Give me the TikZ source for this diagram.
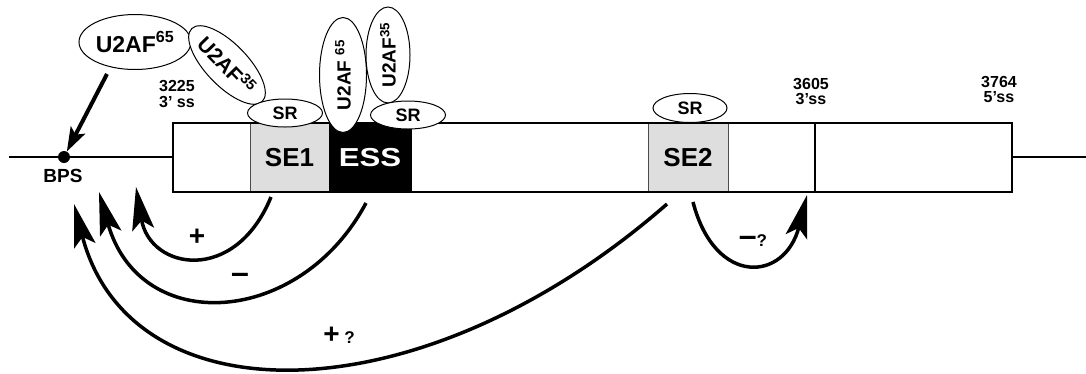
\documentclass[tikz,border=0pt]{standalone}
\usepackage{fontspec}
\setmainfont{Liberation Sans}
\usepackage{graphicx}
\usetikzlibrary{shapes.geometric,arrows.meta}
\newcommand\fs[1]{\fontsize{#1}{#1}\selectfont\bfseries}
\tikzset{
  prot/.style={ellipse, draw, fill=white, line width=1pt, inner sep=0pt},
  srbox/.style={prot, minimum width=75pt, minimum height=28pt, font=\fs{18}},
  region/.style={draw=black!70, line width=0.8pt, minimum height=69pt, inner sep=0pt, font=\fs{26}},
  effect/.style={line width=3.5pt, -{Stealth[length=43pt,width=22pt,inset=9pt]}},
  sign/.style={font=\fs{28}},
  site/.style={font=\fontsize{16}{15.5}\selectfont\bfseries, align=center},
}
\begin{document}
\begin{tikzpicture}[x=1pt,y=-1pt]
\useasboundingbox (0,0) rectangle (1086,373);

% exon regions
\node[region, fill=black!13, minimum width=79pt] (se1) at (289.5,157.5) {SE1};
\node[region, fill=black, draw=black, minimum width=82pt, text=white] (ess) at (370,157.5) {\scalebox{1.2}[1]{ESS}};
\node[region, fill=black!13, minimum width=80pt] (se2) at (688,157.5) {SE2};

% exon outline and 3' splice site
\node[draw, line width=2.2pt, minimum width=839pt, minimum height=69pt, inner sep=0pt] (exon) at (592.5,157.5) {};
\coordinate (ss3) at (815,123);
\draw[line width=2pt] (ss3) -- (ss3 |- exon.south);

% intron lines
\coordinate (lend) at (9,157);
\coordinate (rend) at (1086,157);
\draw[line width=1.5pt] (lend) -- (lend -| exon.west);
\draw[line width=1.5pt] (rend -| exon.east) -- (rend);

% branch point
\node[circle, fill, inner sep=0pt, minimum size=12pt] (bps) at (64,157) {};
\node[font=\fs{19}] (bpslbl) at (63,176) {BPS};

% site labels
\node[site] (ss3225) at (177,94) {3225\\3' ss};
\node[site] (ss3605) at (811,91.5) {3605\\3'ss};
\node[site] (ss5) at (999,89.5) {3764\\5'ss};

% bound factors
\node[prot, minimum width=112pt, minimum height=55pt, font=\fs{23}] (u65a) at (135,42) {U2AF\textsuperscript{65}};
\node[prot, rotate=-46, minimum width=97pt, minimum height=42pt, font=\fs{21}] (u35a) at (227,65) {U2AF\textsuperscript{35}};
\node[prot, rotate=90, minimum width=115pt, minimum height=47pt, font=\fs{19}] (u65b) at (343,75) {U2AF \textsuperscript{65}};
\node[prot, rotate=90, minimum width=96pt, minimum height=44pt, font=\fs{19}] (u35b) at (388,55) {U2AF\textsuperscript{35}};
\node[srbox] (sr1) at (285,113) {SR};
\node[srbox] (sr2) at (408,115) {SR};
\node[srbox, minimum width=74pt, minimum height=29pt] (sr3) at (690,108) {SR};

% U2AF65 to branch point
\coordinate (u65foot) at (107,74);
\draw[line width=4pt, -{Stealth[length=24pt,width=16pt,inset=5pt]}] (u65foot) -- (bps);

% regulatory effects
\coordinate (s1) at (271,197); \coordinate (t1) at (136,187);
\draw[effect] (s1) .. controls (235,285) and (150,270) .. (t1);
\coordinate (s2) at (366,203); \coordinate (t2) at (99,192);
\draw[effect] (s2) .. controls (300,327) and (140,337) .. (t2);
\coordinate (s3) at (667,204); \coordinate (t3) at (74,204);
\draw[effect] (s3) .. controls (420,420) and (130,420) .. (t3);
\coordinate (s4) at (693,202); \coordinate (t4) at (807,195);
\draw[effect] (s4) .. controls (715,287) and (785,282) .. (t4);

\node[sign] (plus1) at (197,237) {+};
\node[sign] (minus1) at (240,278) {\fontsize{32}{32}\selectfont –};
\node[sign] (plus2) at (339,335) {+\,{\fontsize{17}{17}\selectfont ?}};
\node[sign] (minus2) at (753,241) {{\fontsize{32}{32}\selectfont –}{\fontsize{17}{17}\selectfont ?}};
\end{tikzpicture}
\end{document}
